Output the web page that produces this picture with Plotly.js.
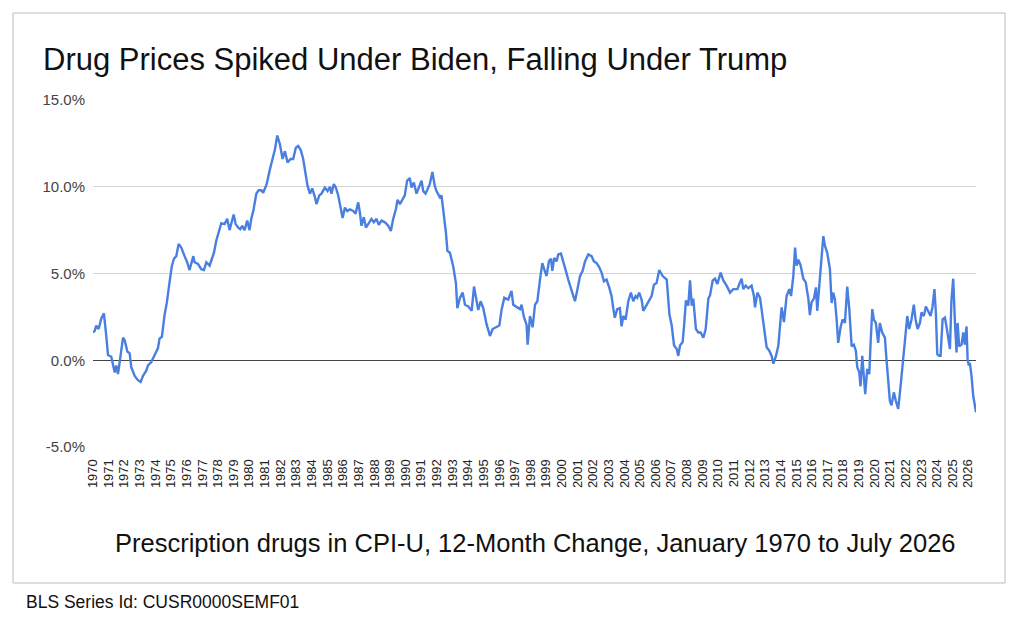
<!DOCTYPE html>
<html>
<head>
<meta charset="utf-8">
<script src="https://cdn.plot.ly/plotly-3.0.1.min.js"></script>
<style>
html,body{margin:0;padding:0;background:#fff;}
#chart{width:1024px;height:629px;}
</style>
</head>
<body>
<div id="chart"></div>
<script>
// Fractional years (time of each reading) and 12-month % change
const years = [
1970.00,1970.11,1970.21,1970.36,1970.53,1970.70,1970.85,1970.96,1971.17,1971.39,1971.49,1971.60,1971.71,1971.81,1971.92,
1972.03,1972.20,1972.35,1972.45,1972.67,1972.88,1973.05,1973.20,1973.41,1973.52,1973.73,1973.94,1974.16,1974.26,1974.41,
1974.58,1974.73,1974.90,1975.05,1975.18,1975.33,1975.48,1975.65,1975.86,1976.03,1976.18,1976.33,1976.42,1976.50,1976.72,
1976.93,1977.10,1977.25,1977.46,1977.61,1977.74,1977.89,1978.10,1978.21,1978.42,1978.59,1978.74,1978.89,1979.00,1979.13,
1979.28,1979.42,1979.55,1979.70,1979.87,1980.02,1980.13,1980.28,1980.45,1980.60,1980.77,1980.89,1981.11,1981.32,1981.53,
1981.64,1981.79,1981.96,1982.13,1982.28,1982.45,1982.64,1982.81,1982.98,1983.13,1983.30,1983.45,1983.60,1983.73,1983.88,
1984.03,1984.20,1984.30,1984.48,1984.62,1984.84,1985.01,1985.16,1985.26,1985.41,1985.54,1985.69,1985.86,1985.97,1986.12,
1986.27,1986.44,1986.65,1986.80,1986.97,1987.08,1987.18,1987.33,1987.46,1987.61,1987.82,1987.97,1988.14,1988.29,1988.46,
1988.68,1988.89,1989.06,1989.21,1989.38,1989.49,1989.64,1989.81,1989.95,1990.10,1990.27,1990.38,1990.53,1990.70,1990.87,
1991.02,1991.13,1991.28,1991.45,1991.55,1991.72,1991.87,1991.98,1992.19,1992.30,1992.45,1992.58,1992.68,1992.84,1993.05,
1993.22,1993.31,1993.48,1993.65,1993.80,1994.01,1994.23,1994.38,1994.55,1994.65,1994.80,1994.97,1995.19,1995.40,1995.57,
1995.83,1996.00,1996.14,1996.32,1996.57,1996.78,1996.89,1997.10,1997.32,1997.42,1997.57,1997.74,1997.81,1997.96,1998.13,
1998.28,1998.43,1998.60,1998.75,1998.87,1999.02,1999.17,1999.30,1999.39,1999.51,1999.66,1999.77,1999.94,2000.09,2000.26,
2000.41,2000.62,2000.84,2000.98,2001.16,2001.33,2001.48,2001.69,2001.90,2002.05,2002.22,2002.37,2002.54,2002.69,2002.86,
2003.03,2003.18,2003.29,2003.39,2003.54,2003.71,2003.82,2003.93,2004.08,2004.25,2004.42,2004.57,2004.72,2004.82,2004.95,
2005.10,2005.21,2005.42,2005.59,2005.74,2005.89,2006.06,2006.23,2006.45,2006.71,2006.88,2007.03,2007.18,2007.35,2007.45,
2007.56,2007.73,2007.82,2007.94,2008.09,2008.20,2008.31,2008.41,2008.58,2008.73,2008.88,2009.05,2009.20,2009.37,2009.48,
2009.65,2009.80,2009.95,2010.16,2010.33,2010.54,2010.76,2010.97,2011.23,2011.40,2011.50,2011.61,2011.76,2011.93,2012.14,
2012.29,2012.36,2012.51,2012.68,2012.78,2012.93,2013.10,2013.27,2013.42,2013.53,2013.70,2013.85,2013.96,2014.06,2014.21,
2014.38,2014.55,2014.66,2014.81,2014.92,2015.02,2015.13,2015.28,2015.45,2015.60,2015.77,2015.87,2015.98,2016.13,2016.26,
2016.34,2016.47,2016.62,2016.73,2016.83,2016.98,2017.15,2017.26,2017.36,2017.47,2017.58,2017.68,2017.83,2017.96,2018.11,
2018.26,2018.39,2018.54,2018.68,2018.81,2018.90,2019.03,2019.11,2019.22,2019.32,2019.41,2019.54,2019.67,2019.75,2019.86,
2019.96,2020.09,2020.24,2020.35,2020.50,2020.67,2020.77,2020.88,2020.99,2021.09,2021.24,2021.37,2021.52,2021.67,2021.80,
2021.95,2022.10,2022.22,2022.37,2022.52,2022.63,2022.76,2022.91,2023.01,2023.16,2023.29,2023.44,2023.59,2023.72,2023.84,
2023.93,2024.02,2024.14,2024.23,2024.36,2024.51,2024.61,2024.72,2024.83,2024.93,2025.04,2025.15,2025.25,2025.32,2025.42,
2025.57,2025.68,2025.78,2025.89,2025.96,2026.04,2026.10,2026.21,2026.32,2026.496
];
const changePct = [
1.6,1.7,2.0,1.8,2.4,2.7,1.4,0.3,0.2,-0.7,-0.3,-0.8,-0.1,0.5,1.3,
1.15,0.5,0.4,-0.4,-0.9,-1.15,-1.25,-0.9,-0.6,-0.3,-0.1,0.25,0.7,1.25,1.35,
2.6,3.35,4.5,5.45,5.85,6.0,6.7,6.5,6.0,5.65,5.2,5.65,6.0,5.65,5.55,
5.25,5.2,5.65,5.45,5.85,6.2,6.9,7.65,7.9,7.85,8.15,7.5,7.95,8.4,7.85,
7.65,7.55,7.75,7.5,8.05,7.5,8.15,8.7,9.6,9.8,9.8,9.65,10.15,11.0,11.8,
12.15,12.95,12.45,11.6,12.05,11.4,11.6,11.6,12.25,12.35,12.1,11.6,10.8,10.05,9.6,
9.9,9.4,9.0,9.5,9.6,9.95,9.75,10.0,9.6,10.15,9.95,9.5,8.7,8.2,8.8,
8.6,8.7,8.6,8.45,9.1,8.5,7.75,8.25,7.65,7.85,8.15,7.95,8.15,7.8,8.05,
7.95,7.75,7.45,8.15,8.7,9.25,9.0,9.25,9.5,10.35,10.5,9.95,10.25,9.6,10.05,
10.35,9.75,9.6,9.95,10.15,10.85,10.05,9.75,9.4,9.5,8.5,7.4,6.3,6.2,5.4,
4.45,3.0,3.6,3.9,3.2,3.1,2.85,4.25,3.5,2.9,3.4,3.0,2.05,1.4,1.8,
1.9,2.0,2.9,3.6,3.5,4.0,3.2,3.1,2.95,3.2,2.5,2.05,0.9,2.55,1.9,
3.2,3.4,4.65,5.6,5.25,4.85,5.7,5.85,5.15,5.9,5.7,6.1,6.15,5.6,5.15,
4.65,4.1,3.4,4.0,4.85,5.15,5.7,6.1,6.0,5.7,5.6,5.4,5.05,4.55,4.65,
4.2,3.7,3.0,2.45,2.95,3.0,1.95,2.55,2.35,3.4,3.9,3.4,3.7,3.6,3.9,
3.5,2.85,3.2,3.5,3.7,4.35,4.45,5.2,4.85,4.65,2.65,2.0,0.85,0.65,0.25,
0.85,1.05,2.0,3.45,3.15,4.6,3.15,3.55,1.8,1.6,1.6,1.3,1.8,3.55,3.75,
4.6,4.7,4.4,5.05,4.6,4.3,3.9,4.1,4.1,4.5,4.7,4.1,4.3,4.15,4.3,
3.7,3.05,3.9,3.6,2.95,1.8,0.75,0.55,0.25,-0.2,0.25,0.85,1.8,3.05,2.2,
3.7,4.1,3.7,4.85,6.5,5.45,5.8,5.45,4.7,4.5,3.55,2.6,3.35,3.55,4.2,
2.85,4.3,6.4,7.15,6.6,6.2,5.25,3.3,3.9,3.5,2.35,1.0,1.9,2.35,2.15,
4.25,2.95,0.8,0.9,0.55,-0.4,-0.7,-1.5,0.25,-0.9,-1.95,-0.5,-0.8,0.9,2.95,
2.35,2.15,1.0,2.15,1.6,1.3,0.05,-1.1,-2.35,-2.6,-1.85,-2.35,-2.8,-1.5,-0.3,
0.8,2.55,1.8,2.35,3.2,2.35,1.8,2.15,2.75,2.55,3.1,2.85,2.55,3.1,4.1,
2.75,0.35,0.25,0.25,2.35,2.45,1.95,1.4,0.65,3.5,4.7,2.15,0.45,2.15,0.8,
0.9,1.6,0.9,1.95,0.05,-0.3,-0.15,-0.9,-2.05,-3.0
];
const yTickVals = [-5, 0, 5, 10, 15];
const yTickText = ["-5.0%", "0.0%", "5.0%", "10.0%", "15.0%"];
const titleText = "Drug Prices Spiked Under Biden, Falling Under Trump";
const subtitleText = "Prescription drugs in CPI-U, 12-Month Change, January 1970 to July 2026";
const footerText = "BLS Series Id: CUSR0000SEMF01";

function toDate(y){
  const yr = Math.floor(y);
  const ms = Date.UTC(yr,0,1) + (y-yr)*365.25*864e5;
  return new Date(ms).toISOString().slice(0,10);
}
const xDates = years.map(toDate);

const FONT = "Liberation Sans, Arial, Helvetica, sans-serif";

const trace = {
  x: xDates, y: changePct, type: 'scatter', mode: 'lines',
  line: {color: '#4a7fe2', width: 2.4},
  hoverinfo: 'x+y'
};

// pixel helpers for paper coords (plot area 93..976 x, 100..447 y)
const PL=93, PR=976, PT=100, PB=447;
const px = v => (v-PL)/(PR-PL);
const py = v => (PB-v)/(PB-PT);

const layout = {
  width: 1024, height: 629,
  margin: {l: PL, r: 1024-PR, t: PT, b: 629-PB, pad: 0},
  paper_bgcolor: '#ffffff', plot_bgcolor: '#ffffff',
  font: {family: FONT, color: '#222'},
  showlegend: false,
  title: {
    text: titleText, font: {family: FONT, size: 31, color: '#111'},
    xref: 'container', yref: 'container', x: 43/1024, xanchor: 'left',
    y: 1-59/629, yanchor: 'middle'
  },
  xaxis: {
    type: 'date', range: ['1970-01-01', '2026-07-01'],
    tick0: '1970-01-01', dtick: 'M12', tickformat: '%Y', tickangle: -90,
    showgrid: false, zeroline: false, showline: false,
    ticks: 'outside', ticklen: 6, tickcolor: 'rgba(0,0,0,0)',
    tickfont: {family: FONT, size: 13, color: '#222'}
  },
  yaxis: {
    range: [-5, 15], tickmode: 'array', tickvals: yTickVals, ticktext: yTickText,
    showgrid: true, gridcolor: '#d6d6d6', gridwidth: 1,
    zeroline: true, zerolinecolor: '#444', zerolinewidth: 1.3,
    showline: false, ticks: 'outside', ticklen: 4, tickcolor: 'rgba(0,0,0,0)',
    tickfont: {family: FONT, size: 15, color: '#444'}
  },
  shapes: [{
    type: 'rect', xref: 'paper', yref: 'paper', layer: 'below',
    x0: px(13), x1: px(1005), y0: py(583), y1: py(13),
    line: {color: '#bdbdbd', width: 1}, fillcolor: 'rgba(0,0,0,0)'
  }],
  annotations: [
    {text: subtitleText, xref: 'paper', yref: 'paper', x: px(535.5), y: py(543),
     xanchor: 'center', yanchor: 'middle', showarrow: false,
     font: {family: FONT, size: 25.5, color: '#111'}},
    {text: footerText, xref: 'paper', yref: 'paper', x: px(24), y: py(602),
     xanchor: 'left', yanchor: 'middle', showarrow: false,
     font: {family: FONT, size: 17.5, color: '#111'}}
  ]
};

Plotly.newPlot('chart', [trace], layout, {displayModeBar: false, staticPlot: true});
</script>
</body>
</html>
